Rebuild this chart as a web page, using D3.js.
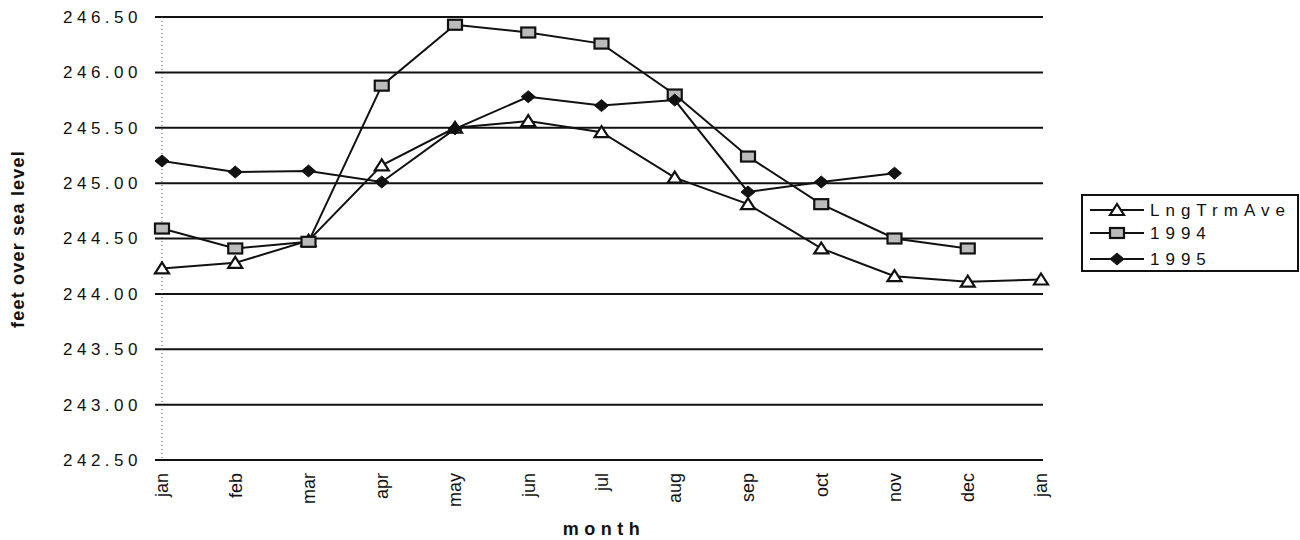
<!DOCTYPE html>
<html>
<head>
<meta charset="utf-8">
<script src="https://cdn.jsdelivr.net/npm/d3@7"></script>
<style>
  body { margin: 0; background: #fff; }
  svg { font-family: "Liberation Sans", Arial, sans-serif; }
</style>
</head>
<body>
<svg></svg>
<script>
let width = 1300, height = 540;

// data
let months = ["jan", "feb", "mar", "apr", "may", "jun", "jul", "aug", "sep", "oct", "nov", "dec", "jan"];
let yTicks = [242.5, 243.0, 243.5, 244.0, 244.5, 245.0, 245.5, 246.0, 246.5];
let lngTrmAve = [244.23, 244.28, 244.48, 245.16, 245.50, 245.56, 245.46, 245.05, 244.81, 244.41, 244.16, 244.11, 244.13];
let y1994 = [244.59, 244.41, 244.47, 245.88, 246.43, 246.36, 246.26, 245.80, 245.24, 244.81, 244.50, 244.41];
let y1995 = [245.20, 245.10, 245.11, 245.01, 245.49, 245.78, 245.70, 245.75, 244.92, 245.01, 245.09];

let series = [
    { name: "LngTrmAve", values: lngTrmAve, marker: "triangle" },
    { name: "1994", values: y1994, marker: "square" },
    { name: "1995", values: y1995, marker: "diamond" }
];

let svg = d3.select("svg")
    .attr("width", width)
    .attr("height", height);

let x = d3.scalePoint()
    .domain(d3.range(months.length))
    .range([162, 1041]);

let y = d3.scaleLinear()
    .domain([242.5, 246.5])
    .range([460, 17]);

// horizontal grid lines
svg.append("g")
    .selectAll("line")
    .data(yTicks)
    .enter()
    .append("line")
    .attr("x1", 155)
    .attr("x2", 1043)
    .attr("y1", d => y(d))
    .attr("y2", d => y(d))
    .attr("stroke", "#111")
    .attr("stroke-width", 2);

// dotted vertical axis
svg.append("line")
    .attr("x1", x(0)).attr("x2", x(0))
    .attr("y1", y(246.5)).attr("y2", y(242.5))
    .attr("stroke", "#555")
    .attr("stroke-width", 1)
    .attr("stroke-dasharray", "1,3");

// y axis labels
let yAxis = svg.append("g")
    .attr("transform", "translate(142,0)")
    .call(d3.axisLeft(y).tickValues(yTicks).tickFormat(d3.format(".2f")).tickSize(0).tickPadding(0));
yAxis.select(".domain").remove();
yAxis.selectAll("text")
    .attr("font-size", 17)
    .attr("letter-spacing", 4.5)
    .attr("fill", "#111")
    .attr("font-family", "Liberation Sans, Arial, sans-serif");

// x axis labels
let xAxis = svg.append("g")
    .attr("transform", "translate(0,473)")
    .call(d3.axisBottom(x).tickFormat(i => months[i]).tickSize(0).tickPadding(0));
xAxis.select(".domain").remove();
xAxis.selectAll("text")
    .attr("font-size", 18)
    .attr("fill", "#111")
    .attr("font-family", "Liberation Sans, Arial, sans-serif")
    .attr("transform", "rotate(-90)")
    .attr("text-anchor", "end")
    .attr("x", 0)
    .attr("y", 0)
    .attr("dy", "0.33em");

// axis titles
svg.append("text")
    .attr("transform", "translate(24,239) rotate(-90)")
    .attr("text-anchor", "middle")
    .attr("font-size", 18)
    .attr("font-weight", "bold")
    .attr("letter-spacing", 1.2)
    .attr("fill", "#111")
    .text("feet over sea level");

svg.append("text")
    .attr("x", 604)
    .attr("y", 535)
    .attr("text-anchor", "middle")
    .attr("font-size", 18)
    .attr("font-weight", "bold")
    .attr("letter-spacing", 5.5)
    .attr("fill", "#111")
    .text("month");

// markers
function drawMarker(sel, type) {
    if (type == "triangle") {
        sel.append("path")
            .attr("d", "M0,-6L7,5L-7,5Z")
            .attr("fill", "#fff")
            .attr("stroke", "#111")
            .attr("stroke-width", 2.2);
    } else if (type == "square") {
        sel.append("rect")
            .attr("x", -7).attr("y", -5)
            .attr("width", 14).attr("height", 10)
            .attr("fill", "#bbb")
            .attr("stroke", "#111")
            .attr("stroke-width", 2.2);
    } else {
        sel.append("path")
            .attr("d", "M0,-6L7,0L0,6L-7,0Z")
            .attr("fill", "#111")
            .attr("stroke", "#111")
            .attr("stroke-width", 1);
    }
}

let line = d3.line()
    .x((d, i) => x(i))
    .y(d => y(d));

series.forEach(s => {
    svg.append("path")
        .datum(s.values)
        .attr("d", line)
        .attr("fill", "none")
        .attr("stroke", "#111")
        .attr("stroke-width", 2);

    svg.append("g")
        .selectAll("g")
        .data(s.values)
        .enter()
        .append("g")
        .attr("transform", (d, i) => "translate(" + x(i) + "," + y(d) + ")")
        .each(function () { drawMarker(d3.select(this), s.marker); });
});

// legend
let legend = svg.append("g").attr("transform", "translate(1082,195)");
legend.append("rect")
    .attr("width", 216)
    .attr("height", 76)
    .attr("fill", "#fff")
    .attr("stroke", "#111")
    .attr("stroke-width", 2);

let rows = legend.selectAll(".row")
    .data(series)
    .enter()
    .append("g")
    .attr("class", "row")
    .attr("transform", (d, i) => "translate(0," + [15, 38, 64][i] + ")");

rows.append("line")
    .attr("x1", 8).attr("x2", 62)
    .attr("stroke", "#111")
    .attr("stroke-width", 2);

rows.append("g")
    .attr("transform", "translate(35,0)")
    .each(function (d) { drawMarker(d3.select(this), d.marker); });

rows.append("text")
    .attr("x", 68)
    .attr("dy", "0.36em")
    .attr("font-size", 17)
    .attr("letter-spacing", 6)
    .attr("fill", "#111")
    .text(d => d.name);
</script>
</body>
</html>
